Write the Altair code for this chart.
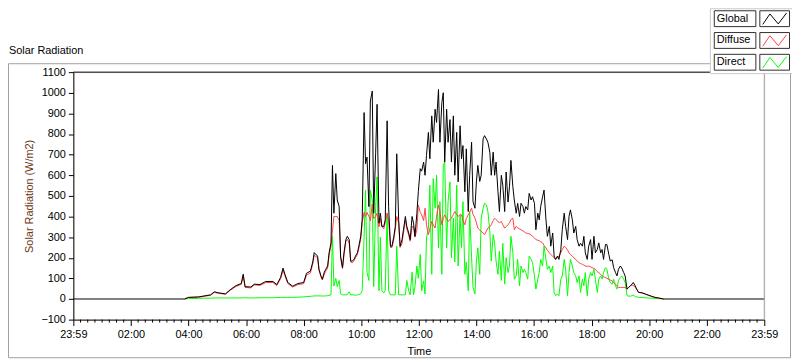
import altair as alt
import pandas as pd

# ---------------- data ----------------
series_names = ["Global", "Diffuse", "Direct"]
series_colors = ["#000000", "#FF4040", "#00FF00"]

# minutes after midnight (daytime samples)
times_min = [
    232, 240, 261, 273, 286, 294, 302, 317, 327, 339, 350, 354, 358, 370, 377,
    389, 401, 416, 424, 432, 437, 441, 447, 457, 468, 480, 486, 494, 499, 502,
    509, 512, 516, 519, 523, 526, 530, 533, 537, 540,
    543, 547, 550, 554, 557, 561, 564, 568, 571, 575,
    578, 581, 585, 588, 592, 595, 599, 602, 606, 609,
    612, 616, 619, 623, 626, 630, 633, 637, 640, 643,
    647, 650, 654, 657, 661, 664, 668, 671, 674, 678,
    681, 685, 688, 692, 695, 699, 702, 706, 709, 712, 716,
    719, 723, 726, 730, 733, 736, 740, 743, 747, 750,
    754, 757, 761, 764, 768, 771, 774, 778, 781, 785,
    788, 792, 795, 799, 802, 806, 809, 812, 816, 819,
    823, 826, 830, 833, 837, 840, 843, 847, 850, 854,
    857, 861, 864, 868, 871, 875, 878, 881, 885, 888,
    892, 895, 899, 902,
    906, 909, 912, 916, 919, 923, 926, 930, 933, 937,
    940, 943, 947, 950, 954, 957, 961, 964, 968, 971,
    974, 978, 981, 985, 988, 992, 995, 999, 1002, 1005,
    1009, 1012, 1016, 1019, 1023, 1026, 1030, 1033, 1036, 1040,
    1043, 1047, 1050, 1054, 1057, 1061, 1064, 1067, 1071, 1074,
    1078, 1081, 1085, 1088,
    1092, 1095, 1099, 1102, 1105, 1109, 1112, 1116, 1119, 1123,
    1126, 1130, 1133, 1136, 1140, 1143, 1147, 1150, 1154, 1157,
    1161, 1164, 1167, 1171, 1174, 1178, 1185, 1192, 1198, 1205,
    1212, 1219, 1230,
]

global_wm2 = [
    0, 8, 10, 15, 20, 35, 30, 25, 45, 65, 75, 120, 60, 58, 72,
    70, 85, 85, 70, 105, 150, 120, 80, 62, 75, 80, 125, 135, 180, 225,
    208, 144, 112, 96, 130, 144, 160, 224, 272, 648,
    416, 608, 480, 448, 208, 152, 224, 288, 304, 288,
    184, 184, 192, 208, 224, 256, 304, 384, 904, 656,
    688, 448, 960, 1008, 416, 704, 944, 368, 416, 352,
    352, 384, 864, 448, 256, 256, 304, 352, 704, 384,
    256, 288, 336, 400, 352, 320, 288, 400, 368, 304, 416,
    520, 632, 620, 664, 600, 696, 808, 680, 888, 760,
    920, 856, 1016, 760, 952, 1000, 664, 920, 760, 870,
    664, 888, 600, 808, 568, 840, 680, 744, 520, 728,
    424, 600, 760, 472, 440, 568, 648, 570, 600, 776,
    792, 776, 760, 712, 600, 712, 600, 664, 520, 424,
    600, 552, 424, 616,
    470, 544, 672, 544, 480, 416, 464, 400, 464, 448,
    416, 448, 432, 512, 480, 496, 464, 336, 416, 384,
    448, 496, 528, 384, 304, 352, 256, 320, 208, 192,
    208, 192, 240, 336, 416, 352, 288, 400, 432, 384,
    320, 352, 288, 256, 270, 256, 304, 224, 192, 256,
    288, 192, 304, 224,
    240, 272, 224, 240, 192, 264, 264, 216, 184, 190,
    152, 128, 112, 144, 160, 150, 128, 112, 48, 56,
    64, 72, 80, 64, 48, 32, 30, 24, 19, 13,
    8, 5, 0,
]

diffuse_wm2 = [
    0, 7, 9, 13, 18, 32, 28, 23, 42, 61, 71, 112, 56, 54, 68,
    66, 80, 80, 65, 98, 140, 112, 75, 58, 70, 74, 116, 126, 170, 212,
    200, 140, 108, 92, 120, 135, 150, 210, 260, 330,
    400, 400, 400, 380, 200, 148, 210, 280, 290, 270,
    180, 175, 185, 200, 215, 245, 290, 370, 420, 400,
    420, 400, 380, 460, 390, 400, 416, 350, 390, 352,
    340, 370, 416, 380, 250, 250, 290, 340, 400, 370,
    250, 270, 320, 384, 340, 310, 280, 352, 350, 300, 336,
    456, 420, 408, 380, 440, 360, 312, 340, 376, 360,
    344, 400, 456, 424, 360, 390, 408, 390, 376, 385,
    392, 410, 424, 410, 400, 410, 408, 380, 360, 390,
    408, 420, 440, 410, 392, 370, 344, 335, 328, 320,
    312, 330, 344, 350, 360, 380, 392, 385, 376, 370,
    376, 360, 344, 350,
    360, 370, 385, 392, 336, 352, 345, 340, 336, 330,
    325, 320, 318, 316, 310, 304, 296, 288, 285, 282,
    278, 272, 260, 248, 236, 224, 216, 208, 200, 192,
    200, 208, 225, 240, 256, 250, 238, 224, 216, 208,
    200, 192, 184, 176, 172, 168, 164, 160, 158, 160,
    156, 152, 148, 144,
    132, 128, 120, 112, 108, 104, 100, 96, 92, 88,
    80, 72, 64, 56, 56, 56, 56, 56, 48, 56,
    64, 67, 67, 56, 48, 32, 30, 24, 19, 13,
    8, 5, 0,
]

direct_wm2 = [
    0, 2, 3, 4, 4, 5, 5, 5, 5, 5, 5, 6, 6, 5, 5,
    6, 6, 6, 7, 8, 8, 8, 8, 8, 9, 10, 12, 13, 14, 15,
    15, 15, 15, 14, 15, 15, 16, 18, 20, 304,
    63, 100, 60, 90, 25, 20, 20, 20, 22, 35,
    20, 20, 20, 18, 20, 22, 25, 40, 304, 528,
    130, 90, 528, 480, 60, 448, 592, 40, 300, 40,
    30, 40, 416, 40, 20, 20, 20, 20, 256, 20,
    20, 20, 20, 20, 90, 40, 20, 130, 20, 60, 160,
    100, 216, 40, 88, 24, 296, 344, 552, 120, 584,
    440, 600, 248, 472, 120, 648, 664, 248, 472, 568,
    200, 392, 180, 552, 160, 408, 250, 472, 120, 180,
    40, 424, 200, 56, 24, 184, 248, 120, 392, 440,
    464, 456, 424, 328, 184, 312, 270, 184, 120, 232,
    90, 270, 72, 200,
    128, 160, 304, 224, 96, 112, 192, 64, 160, 128,
    144, 128, 96, 208, 192, 176, 112, 48, 96, 128,
    192, 160, 256, 192, 144, 160, 128, 160, 32, 16,
    24, 16, 96, 112, 192, 144, 16, 128, 192, 160,
    128, 112, 80, 112, 32, 96, 64, 128, 16, 96,
    128, 112, 144, 96,
    32, 96, 112, 96, 128, 152, 144, 96, 80, 72,
    96, 64, 48, 88, 104, 112, 96, 80, 16, 14,
    14, 16, 19, 12, 10, 8, 7, 6, 5, 4,
    3, 2, 0,
]

# night: global trace sits on zero
night_times = [0, 1440]
night_global = [0, 0]

y_ticks = [-100, 0, 100, 200, 300, 400, 500, 600, 700, 800, 900, 1000, 1100]
x_ticks = [0, 120, 240, 360, 480, 600, 720, 840, 960, 1080, 1200, 1320, 1440]
x_minor_ticks = [m for m in range(0, 1441, 15) if m % 120 != 0]

assert len(times_min) == len(global_wm2) == len(diffuse_wm2) == len(direct_wm2)

# ---------------- frames ----------------
glob_df = pd.DataFrame({
    "time": [night_times[0]] + times_min + [night_times[1]],
    "value": [night_global[0]] + global_wm2 + [night_global[1]],
})
diff_df = pd.DataFrame({"time": times_min, "value": diffuse_wm2})
dir_df = pd.DataFrame({"time": times_min, "value": direct_wm2})
minor_df = pd.DataFrame({"time": x_minor_ticks})
legend_df = pd.DataFrame({"series": series_names})
one = pd.DataFrame({"a": [0]})
title_df = pd.DataFrame({"t": ["Solar Radiation"]})

W, H = 698, 250
FONT = "Liberation Sans"

x_scale = alt.Scale(domain=[0, 1440], nice=False, zero=False)
y_scale = alt.Scale(domain=[-100, 1100], nice=False, zero=False)

x_axis = alt.Axis(
    values=x_ticks,
    labelExpr="datum.value == 0 || datum.value == 1440 ? '23:59' : "
              "(datum.value < 600 ? '0' : '') + (datum.value / 60) + ':00'",
    title="Time", grid=False, tickSize=6, labelPadding=3, labelFlush=False,
    labelOverlap=False, domainColor="#000000", tickColor="#000000",
    labelColor="#000000", labelFontSize=11, titleFontSize=11,
    titleFontWeight="normal", titleColor="#000000", titleY=32,
    titleBaseline="middle", labelFont=FONT, titleFont=FONT,
)
y_axis = alt.Axis(
    values=y_ticks, format="d", title="Solar Radiation (W/m2)", grid=False, tickSize=5,
    labelPadding=3, domainColor="#000000", tickColor="#000000",
    labelColor="#000000", labelFontSize=11, titleFontSize=11,
    titleFontWeight="normal", titleColor="#6B3414", titleX=-44, titleY=125,
    titleAngle=270, titleAlign="center", titleBaseline="middle",
    labelFont=FONT, titleFont=FONT,
)

X = alt.X("time:Q", scale=x_scale, axis=x_axis)
Y = alt.Y("value:Q", scale=y_scale, axis=y_axis)

frame = alt.Chart(one).mark_rect(fill=None, stroke="#A0A0A0", strokeWidth=1).encode(
    x=alt.value(-65.5), x2=alt.value(724.5), y=alt.value(-8.5), y2=alt.value(288.5)
)

direct_line = alt.Chart(dir_df).mark_line(color=series_colors[2], strokeWidth=1).encode(x=X, y=Y)
diffuse_line = alt.Chart(diff_df).mark_line(color=series_colors[1], strokeWidth=1).encode(x=X, y=Y)
global_line = alt.Chart(glob_df).mark_line(color=series_colors[0], strokeWidth=1).encode(x=X, y=Y)

top_border = alt.Chart(one).mark_rule(color="#000000", strokeWidth=1).encode(
    x=alt.value(0), x2=alt.value(W), y=alt.value(0)
)
right_border = alt.Chart(one).mark_rule(color="#A0A0A0", strokeWidth=1).encode(
    x=alt.value(W), y=alt.value(0), y2=alt.value(H)
)
minor = alt.Chart(minor_df).mark_rule(color="#000000", strokeWidth=1).encode(
    x=X, y=alt.value(H), y2=alt.value(H + 3)
)

main = alt.layer(frame, direct_line, diffuse_line, global_line,
                 top_border, right_border, minor)

# ---------------- legend (LabVIEW style) ----------------
leg_y = alt.Y("series:N", axis=None,
              scale=alt.Scale(type="band", domain=series_names, range=[-62, -2],
                              paddingInner=0.2727, paddingOuter=0))
color = alt.Color("series:N", scale=alt.Scale(domain=series_names, range=series_colors),
                  legend=None)

panel = alt.Chart(one).mark_rect(fill="#FFFFFF", stroke="#C8C8C8", strokeWidth=1).encode(
    x=alt.value(643.5), x2=alt.value(730), y=alt.value(-64), y2=alt.value(1.5)
)
label_box = alt.Chart(legend_df).mark_rect(fill="#FFFFFF", stroke="#303030", strokeWidth=1).encode(
    y=leg_y, x=alt.value(647.5), x2=alt.value(689.5)
)
sample_box = alt.Chart(legend_df).mark_rect(fill="#FFFFFF", stroke="#303030", strokeWidth=1).encode(
    y=leg_y, x=alt.value(693.5), x2=alt.value(723.5)
)
label_text = alt.Chart(legend_df).mark_text(
    align="left", baseline="middle", font=FONT, fontSize=11, color="#000000"
).encode(y=leg_y, x=alt.value(650), text="series:N")
glyph = alt.Chart(legend_df).mark_point(
    shape="M-1,0.48L-0.4,-0.4L0.3,0.44L1,-0.48", size=576, filled=False,
    strokeWidth=1, opacity=1
).encode(y=leg_y, x=alt.value(708.5), color=color)

title = alt.Chart(title_df).mark_text(
    align="left", baseline="middle", font=FONT, fontSize=11, color="#000000"
).encode(x=alt.value(-65), y=alt.value(-21), text="t:N")

legend = alt.layer(panel, label_box, sample_box, label_text, glyph, title)

chart = alt.layer(main, legend).resolve_scale(y="independent").properties(
    width=W, height=H,
    padding={"left": 66, "top": 63, "right": 28, "bottom": 40},
    autosize=alt.AutoSizeParams(type="none"),
).configure_view(stroke=None).configure(font=FONT, background="#FFFFFF")

chart.save("out.html", embed_options={"renderer": "svg", "actions": False})
